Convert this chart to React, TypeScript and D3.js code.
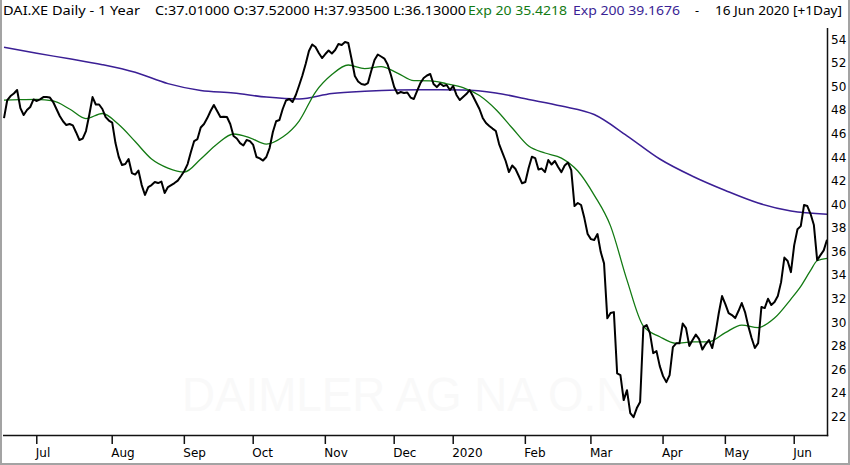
import React, { useEffect } from "react";
import * as d3 from "d3";

// Daily closes (one reading per trading day, mid-Jun 2019 .. 16 Jun 2020)
const closes: number[] = [
  47.32, 48.85, 49.19, 49.4, 49.7, 48.17, 47.58, 48.0, 48.26, 48.9,
  48.77, 48.91, 49.1, 49.1, 49.06, 48.68, 48.09, 47.5, 47.05, 46.73,
  46.82, 46.7, 46.1, 45.46, 45.58, 46.22, 47.58, 49.1, 48.47, 48.47,
  48.09, 47.4, 47.11, 46.94, 45.2, 44.02, 43.34, 43.42, 43.85, 42.66,
  42.53, 42.87, 41.64, 40.8, 41.47, 41.64, 41.9, 41.81, 41.94, 40.96,
  41.47, 41.64, 41.81, 42.02, 42.41, 42.83, 43.42, 44.44, 45.37, 45.54,
  46.52, 46.82, 47.32, 47.92, 48.43, 47.92, 47.41, 47.43, 47.41, 46.82,
  45.8, 45.59, 45.2, 45.0, 45.46, 45.37, 45.04, 44.02, 43.9, 43.72,
  44.02, 44.78, 46.14, 47.05, 47.16, 48.09, 48.81, 48.94, 48.68, 49.28,
  50.08, 50.93, 51.91, 53.01, 53.56, 53.35, 52.84, 52.41, 52.75, 53.05,
  52.8, 53.09, 53.6, 53.52, 53.77, 53.69, 52.33, 50.89, 50.42, 50.21,
  50.14, 50.29, 51.31, 52.24, 52.71, 52.54, 52.37, 51.86, 50.97, 49.95,
  49.4, 49.53, 49.45, 49.49, 49.06, 48.94, 49.62, 50.29, 50.72, 50.93,
  51.06, 50.21, 49.95, 50.25, 50.04, 50.12, 49.7, 50.04, 49.28, 48.85,
  49.1, 49.36, 49.7, 49.19, 48.64, 48.09, 47.33, 46.9, 46.65, 46.43,
  46.22, 45.12, 44.4, 43.68, 42.74, 43.3, 43.0, 42.41, 41.79, 41.9,
  43.08, 44.04, 43.93, 42.96, 43.04, 42.74, 43.76, 43.38, 43.68, 43.17,
  42.74, 43.3, 43.55, 42.9, 39.86, 40.12, 39.95, 38.84, 37.49, 37.06,
  36.98, 37.49, 35.96, 35.0, 30.34, 30.79, 30.87, 25.67, 25.53, 23.41,
  24.25, 22.3, 21.96, 22.73, 23.24, 29.6, 29.77, 29.09, 27.39, 27.56,
  26.29, 25.44, 24.93, 25.53, 27.9, 28.22, 28.22, 29.9, 29.51, 28.0,
  28.5, 28.96, 28.58, 27.69, 28.16, 28.5, 27.82, 29.09, 30.79, 32.23,
  31.55, 30.79, 30.62, 30.36, 30.96, 31.64, 30.87, 29.68, 28.67, 27.82,
  28.24, 31.3, 31.21, 32.0, 31.47, 31.72, 32.23, 33.41, 35.49, 35.2,
  34.26, 36.55, 37.9, 38.16, 39.95, 39.86, 39.18, 38.25, 35.28, 35.7,
  36.1, 37.01,
];

// Exp 20 (read at sampled days)
const ema20Days: number[] = [
  0, 5, 10, 15, 20, 25, 30, 35, 40, 45, 50, 55, 60, 65, 70, 75, 80, 85, 90, 95,
  100, 105, 110, 115, 120, 125, 130, 135, 140, 145, 150, 155, 160, 165, 170, 175,
  180, 185, 190, 195, 200, 205, 210, 215, 220, 225, 230, 235, 240, 243, 246, 248, 251,
];
const ema20Values: number[] = [
  48.85, 48.89, 48.91, 48.77, 48.09, 47.28, 47.71, 46.77, 45.33, 43.85, 43.08, 42.74,
  43.85, 45.12, 45.97, 45.65, 45.12, 45.71, 47.07, 49.53, 51.01, 51.82, 51.52, 51.69,
  51.14, 50.49, 50.48, 50.23, 49.91, 49.23, 48.05, 46.48, 44.95, 44.36, 43.93, 42.83,
  40.79, 38.16, 33.58, 29.68, 28.78, 28.22, 28.35, 28.35, 29.13, 29.77, 29.56, 30.36,
  31.97, 33.05, 34.4, 35.22, 35.42,
];

// Exp 200 (read at sampled days)
const ema200Days: number[] = [
  0, 10, 20, 30, 40, 50, 60, 70, 80, 90, 100, 110, 120, 130, 140, 150, 160, 170,
  180, 190, 200, 210, 220, 230, 240, 251,
];
const ema200Values: number[] = [
  53.32, 52.81, 52.35, 51.85, 51.2, 50.24, 49.66, 49.45, 49.1, 48.94, 49.4, 49.6,
  49.7, 49.72, 49.7, 49.45, 48.9, 48.34, 47.62, 45.82, 43.85, 42.39, 41.18, 40.12,
  39.44, 39.17,
];

const monthLabels: string[] = ["Jul", "Aug", "Sep", "Oct", "Nov", "Dec", "2020", "Feb", "Mar", "Apr", "May", "Jun"];
const monthStartDay: number[] = [10, 33, 55, 76, 98, 119, 137, 159, 179, 201, 220, 241];
const priceTicks: number[] = [22, 24, 26, 28, 30, 32, 34, 36, 38, 40, 42, 44, 46, 48, 50, 52, 54];

const W = 850;
const H = 465;
const PLOT = { left: 3, right: 827.5, top: 28, bottom: 435.5 };
const FONT = "'DejaVu Sans', Verdana, sans-serif";
const HEAD_FONT = "'Noto Sans', 'Open Sans', sans-serif";
const GREEN = "#137a13";
const PURPLE = "#3b1f95";

export default function App() {
  useEffect(() => {
    document.body.style.margin = "0";
  }, []);

  const x = d3.scaleLinear().domain([0, closes.length - 1]).range([4, 827]);
  const y = d3.scaleLinear().domain([22, 54]).range([416.7, 39.3]);

  const closeLine = d3
    .line<number>()
    .x((_, i) => x(i))
    .y((d) => y(d))
    .curve(d3.curveLinear);

  const emaLine = (days: number[]) =>
    d3
      .line<number>()
      .x((_, i) => x(days[i]))
      .y((d) => y(d))
      .curve(d3.curveMonotoneX);

  return (
    <svg width={W} height={H} style={{ position: "absolute", left: 0, top: 0, background: "#fff" }}>
      <defs>
        <clipPath id="plotClip">
          <rect x={PLOT.left} y={PLOT.top} width={PLOT.right - PLOT.left} height={PLOT.bottom - PLOT.top} />
        </clipPath>
      </defs>
      <rect x={0} y={0} width={W} height={H} fill="#fff" />

      {/* watermark */}
      <text
        x={182}
        y={411}
        fontFamily="'Liberation Sans', Arial, sans-serif"
        fontSize={48}
        fill="#f9f9f9"
        textLength={460}
        lengthAdjust="spacingAndGlyphs"
      >
        DAIMLER AG NA O.N.
      </text>

      <g clipPath="url(#plotClip)">
        <path d={emaLine(ema200Days)(ema200Values) || ""} fill="none" stroke={PURPLE} strokeWidth={1.5} />
        <path d={emaLine(ema20Days)(ema20Values) || ""} fill="none" stroke={GREEN} strokeWidth={1.3} />
        <path d={closeLine(closes) || ""} fill="none" stroke="#000" strokeWidth={2} strokeLinejoin="round" />
      </g>

      {/* frame */}
      <line x1={PLOT.right} x2={PLOT.right} y1={PLOT.top} y2={PLOT.bottom + 0.75} stroke="#111" strokeWidth={1.5} />
      <line x1={PLOT.left} x2={PLOT.right + 0.75} y1={PLOT.bottom} y2={PLOT.bottom} stroke="#111" strokeWidth={1.5} />

      {/* right price axis */}
      {priceTicks.map((t) => (
        <text key={t} x={831} y={y(t)} dy="0.36em" fontFamily={FONT} fontSize={12} fill="#000">
          {t}
        </text>
      ))}

      {/* month axis */}
      {monthStartDay.map((d, i) => (
        <g key={monthLabels[i]}>
          <line x1={x(d)} x2={x(d)} y1={PLOT.bottom} y2={444} stroke="#111" strokeWidth={1.5} />
          <text x={x(d) - 1} y={457} fontFamily={FONT} fontSize={12} fill="#000">
            {monthLabels[i]}
          </text>
        </g>
      ))}

      {/* header */}
      <g fontFamily={HEAD_FONT} fontSize={12.5} style={{ whiteSpace: "pre" }}>
        <text x={3} y={15} fill="#000" textLength={137} lengthAdjust="spacingAndGlyphs">DAI.XE Daily -  1 Year</text>
        <text x={155} y={15} fill="#000" textLength={311} lengthAdjust="spacingAndGlyphs">C:37.01000 O:37.52000 H:37.93500 L:36.13000</text>
        <text x={468} y={15} fill={GREEN} textLength={99} lengthAdjust="spacingAndGlyphs">Exp 20 35.4218</text>
        <text x={573} y={15} fill={PURPLE} textLength={107} lengthAdjust="spacingAndGlyphs">Exp 200 39.1676</text>
        <text x={695} y={15} fill="#000">-</text>
        <text x={715} y={15} fill="#000" textLength={127} lengthAdjust="spacingAndGlyphs">16 Jun 2020 [+1Day]</text>
      </g>

      {/* outer border */}
      <line x1={1} x2={1} y1={0} y2={H} stroke="#a3a3a3" strokeWidth={2} />
      <line x1={W - 1} x2={W - 1} y1={0} y2={H} stroke="#a3a3a3" strokeWidth={2} />
      <line x1={0} x2={W} y1={H - 1} y2={H - 1} stroke="#a3a3a3" strokeWidth={2} />
    </svg>
  );
}
